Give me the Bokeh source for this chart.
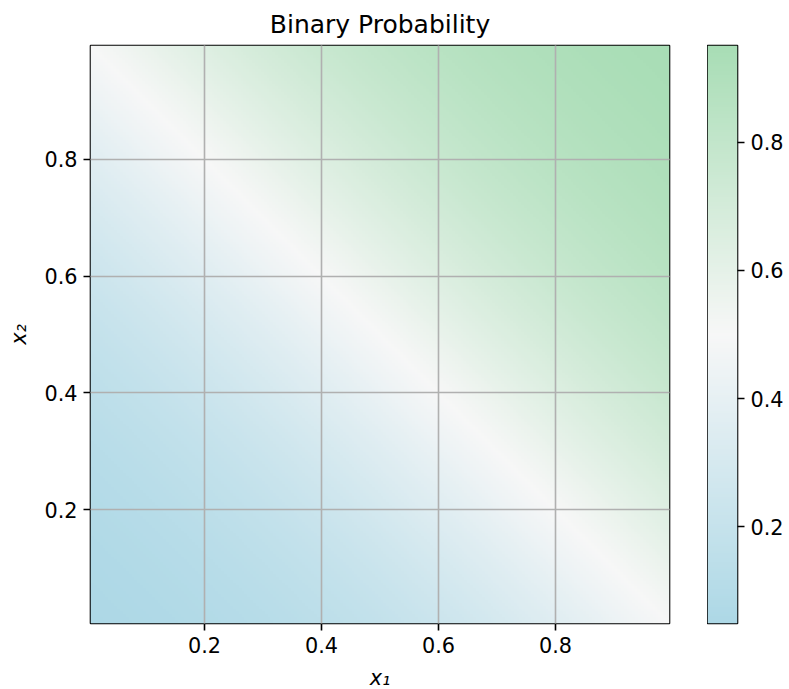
import numpy as np
from bokeh.plotting import figure
from bokeh.layouts import row
from bokeh.models import LinearColorMapper, FixedTicker, Range1d
from bokeh.embed import file_html
from bokeh.resources import INLINE

# model parameters (logistic probability over x1, x2)
weights = [3.0, 3.0]
bias = -3.0
x_lo, x_hi = 0.005, 0.995
n_cells = 200
axis_ticks = [0.2, 0.4, 0.6, 0.8]
cbar_ticks = [0.2, 0.4, 0.6, 0.8]
cmap_anchors = ["#add8e6", "#f7f7f7", "#a8ddb5"]

xs = np.linspace(x_lo, x_hi, n_cells)
X1, X2 = np.meshgrid(xs, xs)
P = 1.0 / (1.0 + np.exp(-(weights[0] * X1 + weights[1] * X2 + bias)))
p_lo, p_hi = float(P.min()), float(P.max())

def hex2rgb(h):
    h = h.lstrip("#")
    return np.array([int(h[i:i + 2], 16) for i in (0, 2, 4)], float)

anch = [hex2rgb(c) for c in cmap_anchors]
palette = []
for t in np.linspace(0, 1, 256):
    if t <= 0.5:
        c = anch[0] + (anch[1] - anch[0]) * (t / 0.5)
    else:
        c = anch[1] + (anch[2] - anch[1]) * ((t - 0.5) / 0.5)
    palette.append("#%02x%02x%02x" % tuple(int(round(v)) for v in c))

mapper = LinearColorMapper(palette=palette, low=p_lo, high=p_hi)

FONT = "DejaVu Sans"
TICK_FS = "20.8px"
LW = 1.6

def style_axis(ax):
    ax.major_label_text_font = FONT
    ax.major_label_text_font_size = TICK_FS
    ax.major_label_text_color = "black"
    ax.axis_label_text_font = FONT
    ax.axis_label_text_font_size = TICK_FS
    ax.axis_label_text_font_style = "italic"
    ax.axis_label_text_color = "black"
    ax.axis_line_color = None
    ax.major_tick_out = 7
    ax.major_tick_in = 0
    ax.major_tick_line_width = LW
    ax.major_tick_line_color = "black"
    ax.minor_tick_line_color = None
    ax.major_label_standoff = 6
    ax.axis_label_standoff = 10

p = figure(output_backend="svg", toolbar_location=None,
           frame_width=579, frame_height=578,
           x_range=Range1d(x_lo, x_hi), y_range=Range1d(x_lo, x_hi),
           min_border_left=90, min_border_top=44, min_border_bottom=64, min_border_right=38,
           title="Binary Probability")
p.image(image=[P], x=x_lo, y=x_lo, dw=x_hi - x_lo, dh=x_hi - x_lo, color_mapper=mapper)

p.title.align = "center"
p.title.text_font = FONT
p.title.text_font_size = "25px"
p.title.text_font_style = "normal"
p.title.text_color = "black"
p.title.standoff = 14

for ax in (p.xaxis[0], p.yaxis[0]):
    ax.ticker = FixedTicker(ticks=axis_ticks)
    style_axis(ax)
p.xaxis.axis_label = "x₁"
p.yaxis.axis_label = "x₂"

p.grid.ticker = FixedTicker(ticks=axis_ticks)
p.grid.grid_line_color = "#b0b0b0"
p.grid.grid_line_width = LW
p.grid.level = "annotation"

p.outline_line_color = "black"
p.outline_line_width = LW

# colorbar as its own narrow figure
cb = figure(output_backend="svg", toolbar_location=None,
            frame_width=30, frame_height=578,
            x_range=Range1d(0, 1), y_range=Range1d(p_lo, p_hi),
            y_axis_location="right",
            min_border_left=0, min_border_top=44, min_border_bottom=64, min_border_right=50)
grad = np.linspace(p_lo, p_hi, 256).reshape(-1, 1)
cb.image(image=[grad], x=0, y=p_lo, dw=1, dh=p_hi - p_lo, color_mapper=mapper)
cb.xaxis.visible = False
cb.grid.visible = False
cb.yaxis.ticker = FixedTicker(ticks=cbar_ticks)
style_axis(cb.yaxis[0])
cb.outline_line_color = "black"
cb.outline_line_width = LW

layout = row(p, cb)
open("out.html", "w").write(file_html(layout, INLINE))
